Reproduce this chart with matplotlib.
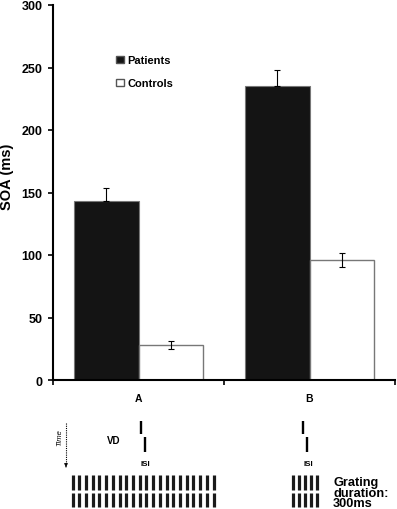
import matplotlib
matplotlib.use("Agg")
import matplotlib.pyplot as plt
from matplotlib.patches import Patch
import numpy as np

plt.rcParams['font.family'] = ['Liberation Sans', 'DejaVu Sans']

# Data
categories = ["A", "B"]
patients = [143, 235]
patients_err = [11, 13]
controls = [28, 96]
controls_err = [3.5, 5.5]
yticks = [0, 50, 100, 150, 200, 250, 300]
grating_counts = [22, 5]
grating_text = ["Grating", "duration:", "300ms"]

W, H = 397, 510
fig = plt.figure(figsize=(W / 100, H / 100), dpi=100)

# main axes
left, right, top, bottom = 53, 395, 6, 381
ax = fig.add_axes([left / W, 1 - bottom / H, (right - left) / W, (bottom - top) / H])
x = np.arange(len(categories))
bw = 0.375
ax.bar(x - bw / 2, patients, bw, color="#141414", edgecolor="#777777", linewidth=0.8, zorder=2)
ax.bar(x + bw / 2, controls, bw, color="white", edgecolor="#777777", linewidth=1.0, zorder=2)
ax.errorbar(x - bw / 2, patients, yerr=[np.zeros(2), patients_err], fmt="none",
            ecolor="black", elinewidth=0.8, capsize=2, capthick=0.8, zorder=3)
ax.errorbar(x + bw / 2, controls, yerr=controls_err, fmt="none",
            ecolor="black", elinewidth=0.8, capsize=2, capthick=0.8, zorder=3)

ax.set_xlim(-0.5, 1.5)
ax.set_ylim(0, 300)
ax.set_yticks(yticks)
ax.set_yticklabels([str(t) for t in yticks], fontsize=9, fontweight="bold")
ax.set_xticks([-0.5, 0.5, 1.5])
ax.set_xticklabels([])
ax.set_xticks([0, 1], minor=True)
ax.set_xticklabels(categories, minor=True, fontsize=7.5, fontweight="bold")
ax.tick_params(axis="x", which="minor", length=0, pad=9)
ax.tick_params(axis="x", which="major", length=3.5, width=1.2, direction="out")
ax.tick_params(axis="y", length=3.5, width=1.2, direction="out", pad=4)
for s in ["top", "right"]:
    ax.spines[s].set_visible(False)
for s in ["left", "bottom"]:
    ax.spines[s].set_linewidth(1.5)
ax.set_ylabel("SOA (ms)", fontsize=10.5, fontweight="bold")
ax.yaxis.set_label_coords((14.5 - left) / (right - left), (bottom - 177) / (bottom - top))

handles = [Patch(facecolor="#141414", edgecolor="#555555", label="Patients"),
           Patch(facecolor="white", edgecolor="#555555", label="Controls")]
ax.legend(handles=handles, frameon=False, loc="upper left",
          bbox_to_anchor=((112 - left) / (right - left), (bottom - 52) / (bottom - top)),
          prop={"size": 8, "weight": "bold"}, handlelength=0.65, handleheight=0.65,
          handletextpad=0.35, labelspacing=1.15, borderaxespad=0)

# bottom schematic in pixel coordinates
ov = fig.add_axes([0, 0, 1, 1], zorder=-1)
ov.set_xlim(0, W)
ov.set_ylim(H, 0)
ov.axis("off")

# time arrow
ov.plot([66, 66], [424, 466], color="black", lw=0.8, ls=(0, (1, 1)))
ov.annotate("", xy=(66, 471), xytext=(66, 465),
            arrowprops=dict(arrowstyle="-|>", color="black", lw=0.6, mutation_scale=5))
ov.text(60, 438, "Time", rotation=90, fontsize=5.5, style="italic", ha="center", va="center")
ov.text(113.5, 441, "VD", fontsize=7, fontweight="bold", ha="center", va="center")

for cx in [140.5, 303]:
    ov.plot([cx, cx], [422, 435], color="black", lw=1.7, solid_capstyle="butt")
    ov.plot([cx + 4, cx + 4], [438, 453], color="black", lw=1.7, solid_capstyle="butt")
    ov.text(cx + 5, 465, "ISI", fontsize=5.8, fontweight="bold", ha="center", va="center")

# gratings
starts = [72.5, 293]
for n, x0, st in zip(grating_counts, starts, [6.72, 6.0]):
    xs = x0 + st * np.arange(n)
    for (y0, y1) in [(476, 490.5), (493.5, 508)]:
        ov.vlines(xs, y0, y1, color="#1a1a1a", lw=2.3)

for line, yb in zip(grating_text, [486, 497, 507.5]):
    ov.text(333, yb, line, fontsize=9.2, fontweight="bold", ha="left", va="baseline")

fig.savefig("out.png", dpi=100)
